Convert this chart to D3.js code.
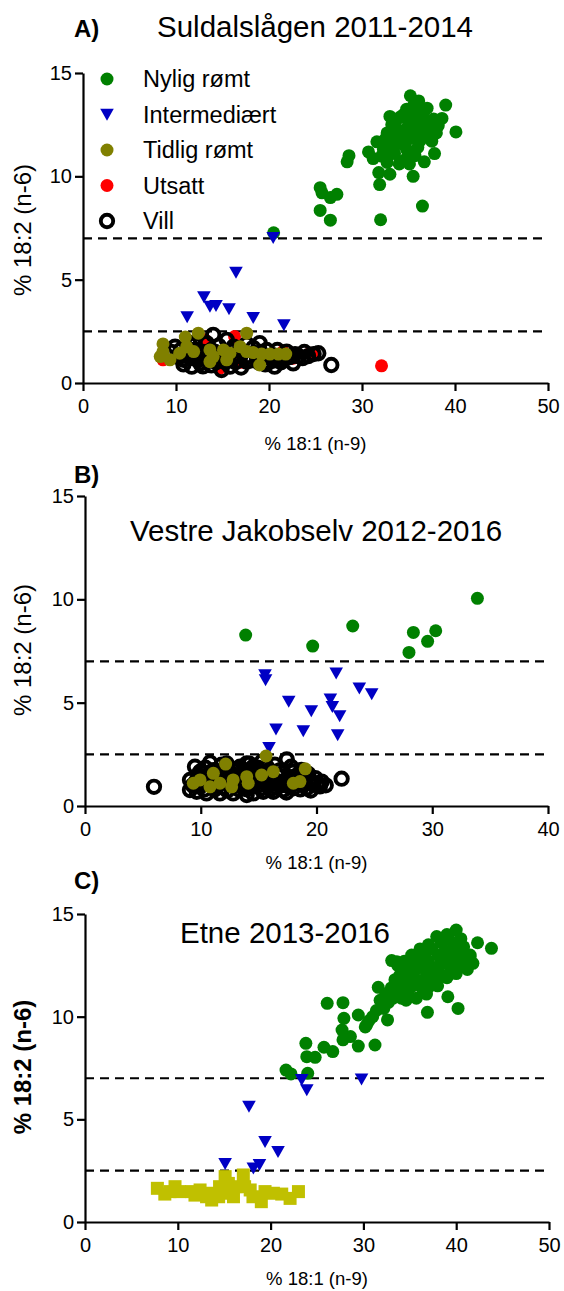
<!DOCTYPE html>
<html>
<head>
<meta charset="utf-8">
<script src="https://cdn.jsdelivr.net/npm/d3@7"></script>
<style>
  body { margin: 0; background: #fff; }
  svg { display: block; }
  text { font-family: "Liberation Sans", Arial, Helvetica, sans-serif; fill: #000; }
</style>
</head>
<body>
<svg id="chart" width="564" height="1291"></svg>
<script>
// ---------- data: % 18:1 (n-9) vs % 18:2 (n-6), one [x, y] pair per fish ----------
const seriesNames = ["Nylig rømt", "Intermediært", "Tidlig rømt", "Utsatt", "Vill"];
const thresholds = [7, 2.5];
const yTicks = [0, 5, 10, 15];
const xTicksA = [0, 10, 20, 30, 40, 50];
const xTicksB = [0, 10, 20, 30, 40];
const xTicksC = [0, 10, 20, 30, 40, 50];

// A) Suldalslågen 2011-2014
const suldalNylig = [
  [35.2,13.9],[36.1,13.65],[39.0,13.45],[34.8,13.25],[35.9,13.1],[36.6,13.1],[33.9,12.8],[35.2,12.77],
  [37.7,12.77],[38.6,12.8],[38.2,12.45],[40.1,12.15],[32.7,12.1],[33.7,12.3],[34.8,12.3],[35.9,12.45],
  [36.8,12.5],[37.3,11.95],[37.5,11.7],[31.6,11.67],[33.0,11.8],[34.3,11.88],[35.5,12.05],[36.2,11.7],
  [32.3,11.3],[33.4,11.4],[34.4,11.55],[34.8,11.3],[35.7,11.0],[37.8,11.1],[30.7,11.18],[31.2,10.86],
  [28.6,11.0],[28.4,10.7],[32.1,10.98],[32.7,10.67],[31.8,10.18],[33.0,10.1],[35.5,10.0],[31.9,9.6],
  [25.5,9.45],[25.7,9.2],[26.6,8.97],[27.3,9.13],[25.5,8.35],[26.6,7.88],[32.0,7.9],[36.5,8.56],
  [20.5,7.27],[34.0,12.0],[35.0,12.6],[36.0,12.2],[33.5,11.1],[34.6,10.8],[36.5,12.9],[35.5,13.4],
  [33.2,12.5],[37.0,12.2],[34.2,12.9],[32.8,11.0],[33.5,12.6],[34.5,13.0],[35.6,12.8],[36.3,12.9],
  [37.2,12.6],[33.8,11.6],[35.0,11.8],[36.0,11.4],[36.8,11.9],[34.0,10.6],[35.1,10.6],[37.0,13.3],
  [34.4,12.2],[36.7,10.7],[32.5,11.8],[38.0,12.1],[33.0,12.9],[35.8,11.9]
];
const suldalInter = [
  [20.45,7.02],[16.45,5.35],[13.0,4.16],[13.65,3.7],[14.3,3.74],[15.7,3.58],[11.2,3.19],[18.3,3.15],[21.6,2.8]
];
const suldalTidlig = [
  [12.4,2.41],[17.6,2.41],[11.0,2.22],[8.6,1.89],[8.6,1.52],[8.3,1.28],[9.35,1.12],[11.15,1.76],
  [11.9,1.52],[13.65,1.6],[14.0,1.28],[13.65,1.03],[15.1,1.6],[15.8,1.44],[16.9,1.76],[17.6,1.52],
  [18.3,1.47],[19.2,1.4],[20.1,1.4],[21.0,1.4],[21.8,1.4],[19.0,0.87],[15.45,1.12],[10.4,1.44]
];
const suldalUtsatt = [
  [16.3,2.25],[32.1,0.83],[24.4,1.44],[24.9,1.4],[8.6,1.12],[21.5,1.52],[22.6,1.2],[14.7,0.71],
  [13.1,2.09],[17.0,1.0],[11.5,1.3]
];
const suldalVill = [
  [14.0,2.33],[9.9,1.76],[11.7,0.79],[14.9,0.63],[20.6,0.79],[26.7,0.87],[24.8,1.4],[25.3,1.44],
  [22.8,1.4],[21.9,1.52],[19.0,1.93],[18.7,1.28],[16.9,1.28],[16.2,1.76],[14.7,1.28],[13.3,1.28],
  [12.2,1.6],[10.8,1.12],[10.1,1.28],[13.3,1.93],[15.45,2.09],[19.75,1.6],[21.2,1.12],[17.6,1.03],
  [15.8,0.79],[12.6,0.95],[22.6,0.95],[9.5,1.5],[10.5,1.6],[11.2,1.4],[11.8,1.2],[12.4,1.1],
  [12.9,1.5],[13.8,1.6],[14.3,1.0],[15.0,1.4],[15.6,1.2],[16.4,1.0],[17.2,1.5],[17.9,1.3],
  [18.3,1.7],[19.3,1.2],[20.0,1.0],[20.4,1.35],[21.5,1.3],[22.2,1.25],[23.2,1.3],[23.8,1.5],
  [12.0,1.85],[14.6,1.8],[17.6,1.9],[10.8,0.9],[16.0,1.55],[18.9,1.0],[20.9,1.6],[13.8,0.85],
  [11.4,1.95],[10.6,1.3],[11.6,1.6],[12.7,1.25],[13.5,1.1],[14.2,1.5],[15.3,1.0],[16.1,1.2],
  [16.8,1.55],[17.4,1.2],[18.1,1.1],[19.1,1.5],[19.7,1.3],[20.6,1.1],[21.3,1.0],[22.5,1.3],
  [23.6,1.2],[12.9,0.8],[17.0,0.75],[19.6,0.9],[24.2,1.3]
];

// B) Vestre Jakobselv 2012-2016
const jakobNylig = [
  [13.88,8.27],[19.67,7.74],[23.13,8.71],[28.37,8.4],[30.3,8.48],[29.6,7.97],[27.99,7.43],[33.9,10.05]
];
const jakobInter = [
  [15.55,6.34],[15.6,6.1],[21.7,6.42],[23.7,5.69],[24.77,5.42],[17.6,5.05],[21.2,5.16],[21.37,4.8],
  [22.0,4.35],[19.55,4.6],[16.5,3.71],[18.86,3.63],[21.83,3.43],[15.9,2.82]
];
const jakobTidlig = [
  [15.64,2.42],[19.03,1.8],[12.15,2.03],[16.27,1.66],[11.09,1.58],[9.36,1.1],[9.94,1.26],[11.66,1.1],
  [12.8,1.26],[13.97,1.42],[15.26,1.5],[18.0,1.1],[18.57,1.18],[10.8,0.93],[12.67,0.93],[14.1,1.1]
];
const jakobVill = [
  [5.96,0.93],[22.17,1.32],[10.8,2.1],[17.43,2.26],[9.94,1.66],[9.07,0.77],[9.65,0.69],[10.5,0.61],
  [11.66,0.61],[12.8,0.61],[13.97,0.53],[14.54,0.61],[15.4,0.69],[16.27,0.69],[17.13,0.77],[18.0,0.86],
  [19.15,0.86],[19.72,1.02],[20.45,1.18],[16.85,1.74],[15.7,1.9],[14.54,1.9],[13.39,1.9],[18.0,1.66],
  [19.15,1.42],[9.07,1.26],[11.09,1.74],[12.8,1.74],[13.97,2.06],[12.24,2.06],[9.94,0.93],[17.43,1.26],
  [15.7,1.02],[10.2,1.4],[11.5,1.3],[13.0,1.2],[14.5,1.3],[16.0,1.35],[17.0,1.0],[18.8,1.3],
  [12.0,0.9],[13.3,0.8],[15.0,1.0],[16.6,1.5],[11.2,0.8],[9.3,1.0],[9.8,1.5],[10.3,0.8],
  [10.6,1.2],[11.0,1.5],[11.4,1.0],[11.9,1.4],[12.3,0.75],[12.6,1.6],[13.1,1.0],[13.6,1.5],
  [14.0,0.8],[14.3,1.7],[14.8,1.2],[15.2,0.85],[15.5,1.55],[16.2,1.1],[16.5,0.9],[17.1,1.6],
  [17.6,0.95],[18.3,1.1],[18.5,1.55],[19.4,1.15],[19.9,1.35],[20.8,1.0],[9.5,1.9],[10.4,1.85],
  [11.8,2.0],[13.0,1.8],[14.2,2.05],[15.3,2.15],[16.4,2.0],[17.8,1.9],[18.7,1.75],[12.2,1.25],
  [13.5,1.15],[14.9,1.45],[16.3,1.25],[17.7,1.4],[19.5,0.75],[9.6,1.2],[10.0,1.05],[10.9,1.1],
  [11.3,1.7],[11.6,1.25],[12.5,1.35],[12.9,1.45],[13.3,1.35],[13.8,1.2],[14.1,1.55],[14.6,1.1],
  [15.0,1.65],[15.4,1.3],[15.9,1.45],[16.6,1.2],[16.9,1.45],[17.3,1.15],[17.9,1.2],[18.2,1.45],
  [18.9,1.05],[19.3,1.55],[20.1,1.1],[10.7,1.4],[12.0,1.55],[13.7,1.7],[15.9,1.75],[11.1,0.95],
  [12.6,1.0],[14.4,0.95],[16.0,0.8],[17.4,0.65],[18.6,0.8],[20.3,0.95],[10.1,1.65],[14.9,1.85]
];

// C) Etne 2013-2016
const etneNylig = [
  [40.0,14.22],[42.3,13.6],[43.8,13.33],[38.6,13.74],[33.05,12.73],[33.6,12.68],[41.5,12.92],[41.8,12.6],
  [31.6,11.43],[39.1,10.97],[40.2,10.4],[36.9,10.21],[26.1,10.65],[27.8,10.68],[27.9,9.92],[29.45,10.08],
  [30.35,9.6],[27.7,9.35],[28.6,9.03],[27.8,8.87],[29.45,8.57],[31.25,8.62],[32.6,9.84],[23.8,8.7],
  [23.9,8.05],[24.8,8.02],[25.75,8.51],[26.7,8.3],[21.66,7.4],[22.2,7.21],[24.0,7.24],
  [31.4,10.3],[31.8,10.8],[32.2,10.4],[32.4,11.1],[32.7,10.7],[33.0,11.4],[33.2,10.9],[33.4,11.8],
  [33.6,11.2],[33.9,12.0],[34.1,10.9],[34.3,11.6],[34.5,12.3],[34.7,11.2],[34.9,11.9],[35.1,12.6],
  [35.3,11.5],[35.5,12.2],[35.7,10.9],[35.9,12.8],[36.0,11.7],[36.2,12.4],[36.4,11.3],[36.6,13.0],
  [36.8,12.0],[37.0,12.7],[37.2,11.5],[37.4,13.3],[37.6,12.3],[37.8,11.8],[38.0,13.0],[38.2,12.5],
  [38.4,13.6],[38.6,12.0],[38.8,13.2],[39.0,12.6],[39.2,13.8],[39.4,12.2],[39.6,13.3],[39.8,12.8],
  [40.0,13.5],[40.2,12.4],[40.4,13.1],[40.6,12.7],[40.8,13.4],[41.0,12.9],[41.2,12.3],[37.5,12.0],
  [36.5,11.8],[35.0,11.4],[34.0,11.3],[38.5,12.9],[39.5,12.9],[37.0,12.2],[36.0,12.7],[35.0,12.0],
  [33.5,11.5],[32.5,10.9],[40.5,13.8],[39.0,14.0],[37.9,13.9],[37.0,13.5],[36.1,13.3],[35.2,13.0],
  [34.4,12.7],[33.7,12.5],[38.0,11.5],[39.0,11.9],[40.0,12.1],[36.8,11.1],[35.8,11.6],[34.6,10.8],
  [41.5,13.0],[31.0,10.0],[30.6,9.8],[30.2,9.5]
];
const etneInter = [
  [23.35,6.92],[23.9,6.43],[29.8,6.95],[17.67,5.62],[19.4,3.91],[20.8,3.42],[15.1,2.83],[18.14,2.61],[18.8,2.78]
];
const etneTidlig = [
  [7.8,1.64],[8.6,1.36],[9.7,1.72],[10.2,1.48],[11.5,1.48],[12.4,1.56],[13.5,1.4],[13.65,1.07],
  [14.5,1.72],[15.1,2.21],[15.3,1.4],[16.0,1.23],[16.3,1.72],[17.06,2.29],[17.2,1.72],[18.1,1.23],
  [19.0,0.99],[19.4,1.48],[20.3,1.4],[21.2,1.36],[22.1,1.15],[23.0,1.48],[13.1,1.23],[11.85,1.31],
  [14.4,1.23],[17.8,1.56],[9.16,1.48],[15.45,1.88]
];

// ---------- marker styles ----------
const styles = {
  nylig:   { shape: "circle",   color: "#008000" },
  inter:   { shape: "triangle", color: "#0000c4" },
  tidlig:  { shape: "circle",   color: "#808000" },
  utsatt:  { shape: "circle",   color: "#ff0000" },
  vill:    { shape: "ring",     color: "#000000" },
  tidligC: { shape: "square",   color: "#c0c000" }
};

// ---------- panel layout ----------
const panels = [
  { letter: "A)", title: "Suldalslågen 2011-2014", titleX: 157, titleY: 37, letterY: 37,
    left: 83, right: 548, top: 73, bottom: 383, xMax: 50, xTicks: xTicksA, xTitleY: 450, yTitleY: 230, boldY: false,
    series: [[suldalNylig, "nylig"], [suldalInter, "inter"], [suldalUtsatt, "utsatt"], [suldalVill, "vill"], [suldalTidlig, "tidlig"]],
    legend: true },
  { letter: "B)", title: "Vestre Jakobselv 2012-2016", titleX: 130, titleY: 541, letterY: 483,
    left: 85, right: 548, top: 496, bottom: 806, xMax: 40, xTicks: xTicksB, xTitleY: 869, yTitleY: 650, boldY: false,
    series: [[jakobNylig, "nylig"], [jakobInter, "inter"], [jakobVill, "vill"], [jakobTidlig, "tidlig"]],
    legend: false },
  { letter: "C)", title: "Etne 2013-2016", titleX: 180, titleY: 943, letterY: 889,
    left: 85, right: 549, top: 914, bottom: 1222, xMax: 50, xTicks: xTicksC, xTitleY: 1285, yTitleY: 1067, boldY: true,
    series: [[etneNylig, "nylig"], [etneInter, "inter"], [etneTidlig, "tidligC"]],
    legend: false }
];

const svg = d3.select("#chart");

function drawMarker(sel, key, cx, cy) {
  const st = styles[key];
  if (st.shape === "circle") {
    sel.append("circle").attr("cx", cx).attr("cy", cy).attr("r", 6.5).attr("fill", st.color);
  } else if (st.shape === "ring") {
    sel.append("circle").attr("cx", cx).attr("cy", cy).attr("r", 6.2)
      .attr("fill", "none").attr("stroke", st.color).attr("stroke-width", 3.9);
  } else if (st.shape === "triangle") {
    sel.append("path")
      .attr("d", `M${cx - 6.8},${cy - 5.8}L${cx + 6.8},${cy - 5.8}L${cx},${cy + 6.2}Z`)
      .attr("fill", st.color);
  } else if (st.shape === "square") {
    sel.append("rect").attr("x", cx - 6.5).attr("y", cy - 6.5).attr("width", 13).attr("height", 13)
      .attr("fill", st.color);
  }
}

function styleAxis(g) {
  g.select(".domain").attr("stroke", "#000").attr("stroke-width", 2.2);
  g.selectAll(".tick line").attr("stroke", "#000").attr("stroke-width", 2.2);
  g.selectAll(".tick text").attr("font-size", 20).attr("fill", "#000")
    .attr("font-family", '"Liberation Sans", Arial, sans-serif');
}

panels.forEach(p => {
  const x = d3.scaleLinear().domain([0, p.xMax]).range([p.left, p.right]);
  const y = d3.scaleLinear().domain([0, 15]).range([p.bottom, p.top]);
  const g = svg.append("g");

  // panel letter and title
  g.append("text").attr("x", 74).attr("y", p.letterY).attr("font-size", 24).attr("font-weight", "bold").text(p.letter);
  g.append("text").attr("x", p.titleX).attr("y", p.titleY).attr("font-size", 29.5).text(p.title);

  // dashed classification limits
  g.selectAll("line.limit").data(thresholds).join("line").attr("class", "limit")
    .attr("x1", x(0)).attr("x2", x(p.xMax))
    .attr("y1", d => y(d)).attr("y2", d => y(d))
    .attr("stroke", "#000").attr("stroke-width", 2.2).attr("stroke-dasharray", "9,6");

  // axes
  g.append("g").attr("transform", `translate(0,${p.bottom})`)
    .call(d3.axisBottom(x).tickValues(p.xTicks).tickSize(8).tickPadding(8).tickSizeOuter(0))
    .call(styleAxis);
  g.append("g").attr("transform", `translate(${p.left},0)`)
    .call(d3.axisLeft(y).tickValues(yTicks).tickSize(8).tickPadding(3).tickSizeOuter(0))
    .call(styleAxis);

  // axis titles
  g.append("text").attr("x", (p.left + p.right) / 2).attr("y", p.xTitleY)
    .attr("text-anchor", "middle").attr("font-size", 18.5).text("% 18:1 (n-9)");
  g.append("text").attr("transform", `translate(31,${p.yTitleY}) rotate(-90)`)
    .attr("text-anchor", "middle").attr("font-size", 24)
    .attr("font-weight", p.boldY ? "bold" : "normal").text("% 18:2 (n-6)");

  // points
  p.series.forEach(([pts, key]) => {
    const sg = g.append("g");
    pts.forEach(d => drawMarker(sg, key, x(d[0]), y(d[1])));
  });

  // legend
  if (p.legend) {
    const legendKeys = ["nylig", "inter", "tidlig", "utsatt", "vill"];
    const ly = d3.scalePoint().domain(seriesNames).range([79, 221]);
    const lg = g.append("g");
    seriesNames.forEach((name, i) => {
      drawMarker(lg, legendKeys[i], 107, ly(name));
      lg.append("text").attr("x", 143).attr("y", ly(name)).attr("dy", "0.35em")
        .attr("font-size", 23.5).text(name);
    });
  }
});
</script>
</body>
</html>
